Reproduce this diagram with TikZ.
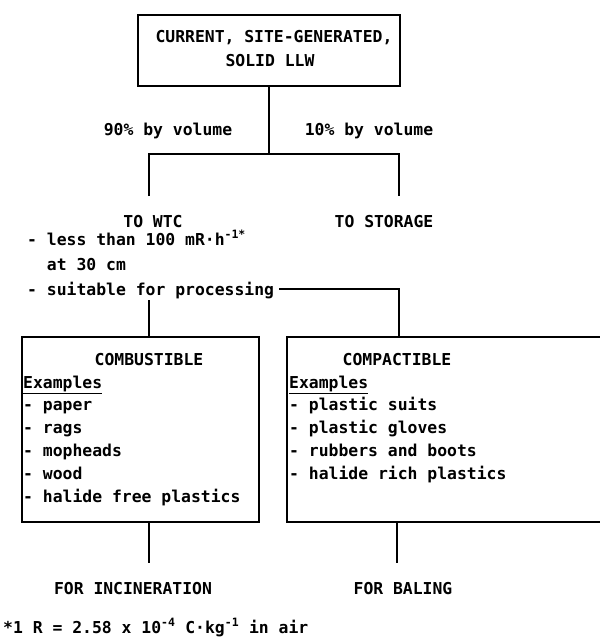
\documentclass[tikz,border=0pt]{standalone}
\usepackage{fontspec}
\setmonofont{DejaVu Sans Mono}
\usetikzlibrary{positioning}
\tikzset{
  box/.style={draw, line width=1.3pt, inner sep=0pt},
  txt/.style={inner sep=0pt, anchor=base},
  item/.style={inner sep=0pt, anchor=base west},
  link/.style={line width=1.3pt},
}
\begin{document}
\begin{tikzpicture}[y=-1pt, x=1pt, font=\ttfamily\bfseries\fontsize{16.4}{20}\selectfont]
    \useasboundingbox (0,0) rectangle (600,643);
    % source box
    \node[box, minimum width=262pt, minimum height=71pt] (llw) at (269,50.5) {};
    \node[txt] (llwa) at (274,42) {CURRENT, SITE-GENERATED,};
    \node[txt] (llwb) at (270,66) {SOLID LLW};
    % split
    \coordinate (split) at (269,154);
    \coordinate (wtcin) at (149,196);
    \coordinate (storin) at (399,196);
    \draw[link] (llw.south) -- (split);
    \draw[link] (wtcin) -- (wtcin |- split) -- (storin |- split) -- (storin);
    \node[txt] (pct90) at (168,135) {90\% by volume};
    \node[txt] (pct10) at (369,135) {10\% by volume};
    \node[txt] (wtc) at (153,227) {TO WTC};
    \node[txt] (stor) at (384,227) {TO STORAGE};
    \node[item] (less) at (27,245) {- less than 100 mR·h\textsuperscript{-1*}};
    \node[item] (cm) at (27,270) {\ \ at 30 cm};
    \node[item] (suit) at (27,295) {- suitable for processing};
    % boxes
    \node[box, minimum width=237pt, minimum height=185pt] (comb) at (140.5,429.5) {};
    \node[box, minimum width=315pt, minimum height=185pt] (comp) at (444.5,429.5) {};
    \coordinate (wtcout) at (149,300);
    \coordinate (compin) at (399,289);
    \draw[link] (wtcout) -- (wtcout |- comb.north);
    \draw[link] ([xshift=5pt]suit.east |- compin) -- (compin) -- (compin |- comp.north);
    \node[txt] (combt) at (149,365) {COMBUSTIBLE};
    \node[txt] (compt) at (397,365) {COMPACTIBLE};
    \node[item] (combex) at (23,388) {\underline{Examples}};
    \node[item] (compex) at (289,388) {\underline{Examples}};
    \foreach \t [count=\i] in {paper,rags,mopheads,wood,halide free plastics} {
      \node[item] (comb\i) at (23,410+23*\i-23) {- \t};
    }
    \foreach \t [count=\i] in {plastic suits,plastic gloves,rubbers and boots,halide rich plastics} {
      \node[item] (comp\i) at (289,410+23*\i-23) {- \t};
    }
    % outlets
    \node[txt] (incin) at (133,594) {FOR INCINERATION};
    \node[txt] (bale) at (403,594) {FOR BALING};
    \coordinate (incinin) at (149,563);
    \coordinate (balein) at (397,563);
    \draw[link] (incinin |- comb.south) -- (incinin);
    \draw[link] (balein |- comp.south) -- (balein);
    % footnote
    \node[item] (note) at (3,633) {*1 R = 2.58 x 10\textsuperscript{-4} C·kg\textsuperscript{-1} in air};
\end{tikzpicture}
\end{document}
